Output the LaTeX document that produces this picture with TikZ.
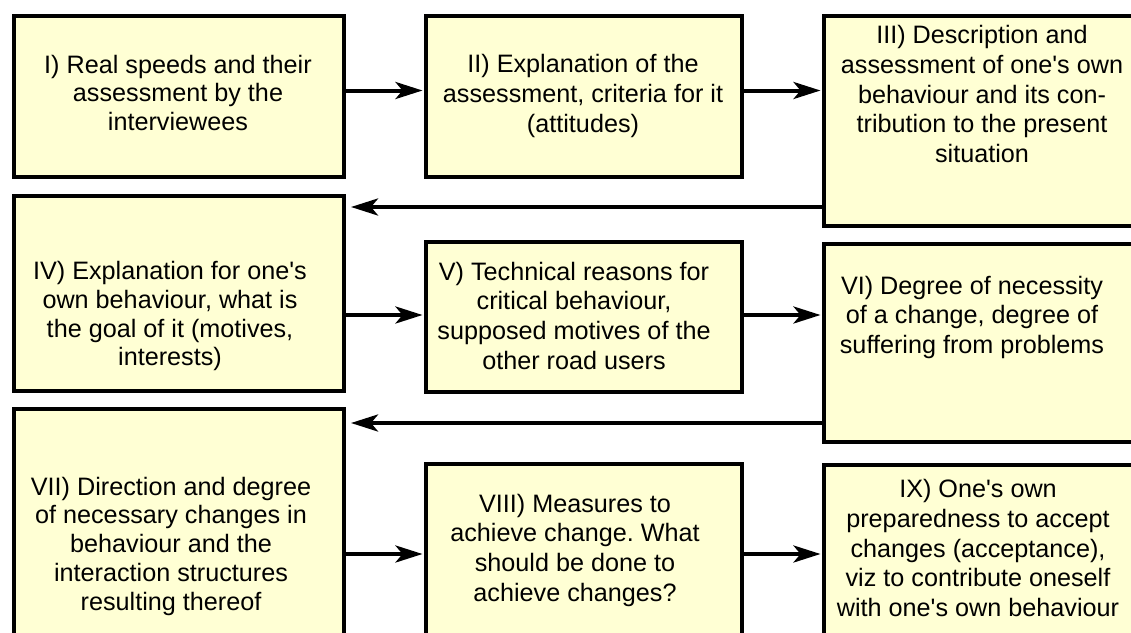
\documentclass[tikz,border=0pt]{standalone}
\usepackage{fontspec}
\newfontfamily\boxfont{Liberation Sans}
\usetikzlibrary{arrows.meta}
\definecolor{boxfill}{RGB}{255,255,212}
\frenchspacing
\begin{document}
\begin{tikzpicture}[x=1pt,y=-1pt,
  box/.style={draw=black, fill=boxfill, line width=4pt, rectangle,
    inner sep=0pt, anchor=north west},
  txt/.style={anchor=north, inner sep=0pt, align=center,
    font=\boxfont\fontsize{25.2}{29.8}\selectfont},
  txtl/.style={txt, font=\boxfont\fontsize{25.2}{28.8}\selectfont},
  arr/.style={-{Stealth[length=27pt,width=17pt,inset=7pt]},
    line width=4pt, shorten >=1.5pt},
  back/.style={arr, shorten >=5pt}]
\useasboundingbox (0,0) rectangle (1131,632);
\clip (0,0) rectangle (1131,632);

% boxes, three rows of three
\node[box, minimum width=330pt, minimum height=161pt] (b1) at (12,14) {};
\node[box, minimum width=316pt, minimum height=161pt] (b2) at (424,14) {};
\node[box, minimum width=318pt, minimum height=210pt] (b3) at (822,14) {};
\node[box, minimum width=330pt, minimum height=195pt] (b4) at (12,194) {};
\node[box, minimum width=316pt, minimum height=150pt] (b5) at (424,240) {};
\node[box, minimum width=318pt, minimum height=198pt] (b6) at (822,242) {};
\node[box, minimum width=330pt, minimum height=233pt] (b7) at (12,407) {};
\node[box, minimum width=316pt, minimum height=178pt] (b8) at (424,462) {};
\node[box, minimum width=318pt, minimum height=177pt] (b9) at (822,463) {};

% texts
\node[txtl] (t1) at (178,54.7) {I) Real speeds and their\\assessment by the\\interviewees};
\node[txt] (t2) at (583,54.4) {II) Explanation of the\\assessment, criteria for it\\(attitudes)};
\node[txt] (t3) at (982,25) {III) Description and\\assessment of one's own\\behaviour and its con-\\tribution to the present\\situation};
\node[txtl] (t4) at (170,261) {IV) Explanation for one's\\own behaviour, what is\\the goal of it (motives,\\interests)};
\node[txt] (t5) at (574,261.7) {V) Technical reasons for\\critical behaviour,\\supposed motives of the\\other road users};
\node[txt] (t6) at (972,275.7) {VI) Degree of necessity\\of a change, degree of\\suffering from problems};
\node[txtl] (t7) at (171,476.7) {VII) Direction and degree\\of necessary changes in\\behaviour and the\\interaction structures\\resulting thereof};
\node[txt] (t8) at (575,493.7) {VIII) Measures to\\achieve change. What\\should be done to\\achieve changes?};
\node[txt] (t9) at (978,479) {IX) One's own\\preparedness to accept\\changes (acceptance),\\viz to contribute oneself\\with one's own behaviour};

% heights of the connectors
\coordinate (r1) at (0,90.5);
\coordinate (r2) at (0,207);
\coordinate (r3) at (0,315);
\coordinate (r4) at (0,423);
\coordinate (r5) at (0,554);

% connectors
\draw[arr] (b1.east |- r1) -- (b2.west |- r1);
\draw[arr] (b2.east |- r1) -- (b3.west |- r1);
\draw[back] (b3.west |- r2) -- (b4.east |- r2);
\draw[arr] (b4.east |- r3) -- (b5.west |- r3);
\draw[arr] (b5.east |- r3) -- (b6.west |- r3);
\draw[back] (b6.west |- r4) -- (b7.east |- r4);
\draw[arr] (b7.east |- r5) -- (b8.west |- r5);
\draw[arr] (b8.east |- r5) -- (b9.west |- r5);
\end{tikzpicture}
\end{document}
